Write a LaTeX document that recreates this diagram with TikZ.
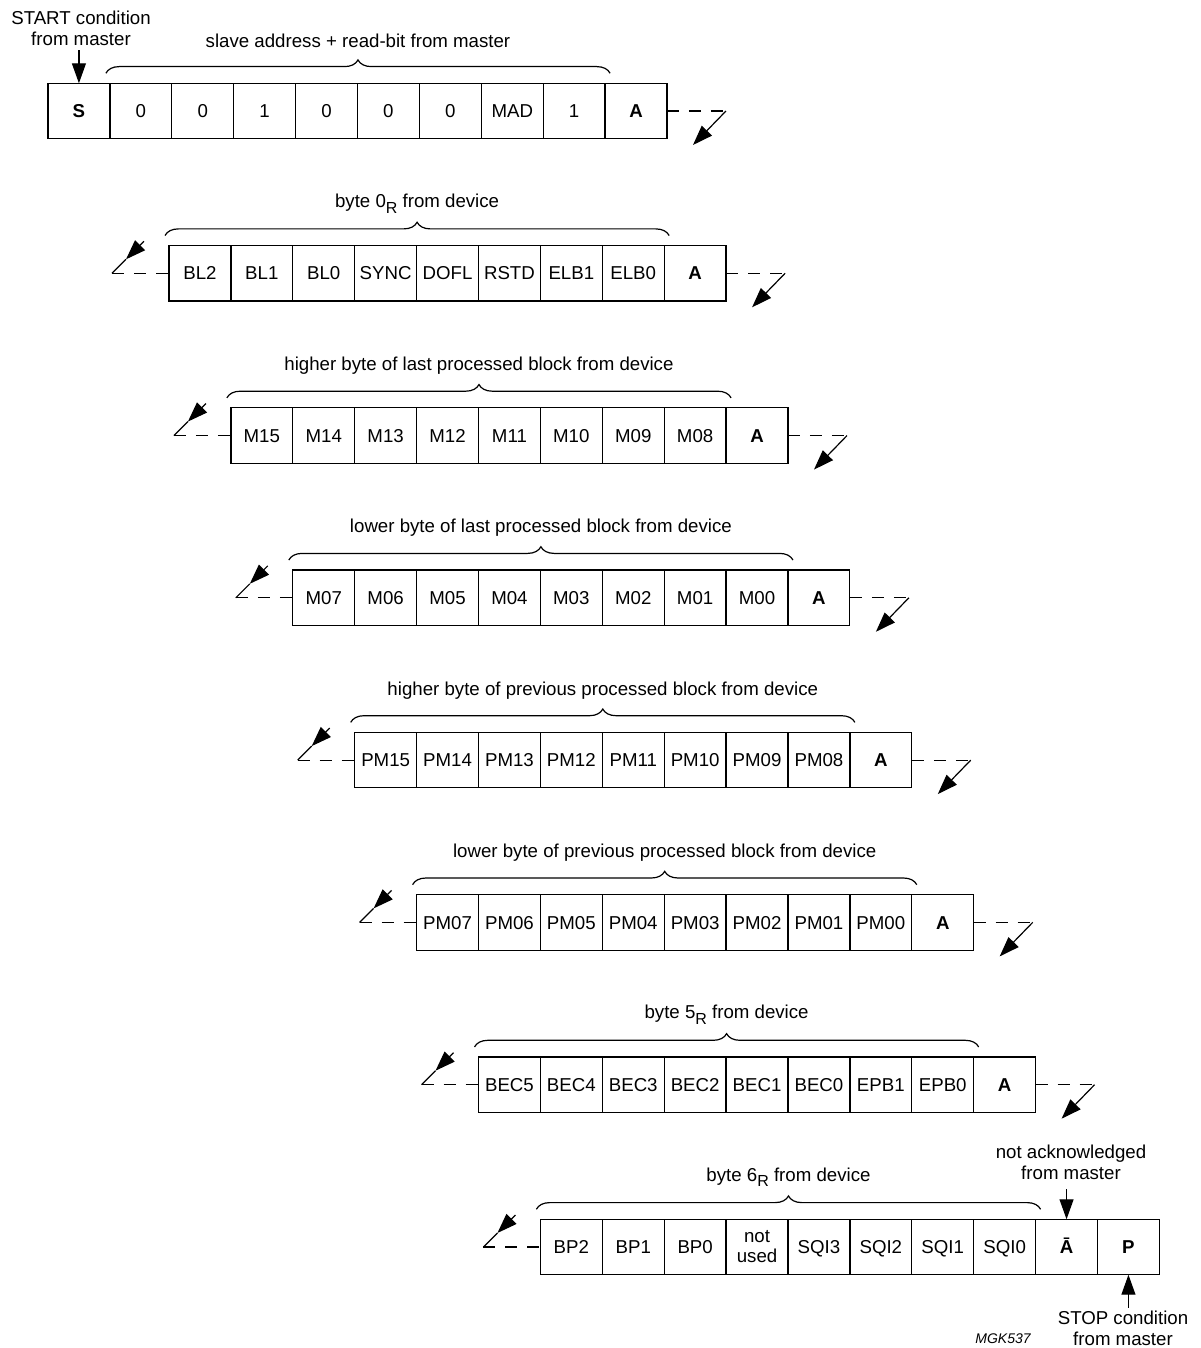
\documentclass[tikz,border=0pt]{standalone}
\usepackage{fontspec}
\setmainfont{Liberation Sans}
\usetikzlibrary{arrows.meta,decorations.pathreplacing,calc}
\newcommand\cellrow[4]{%
  \foreach \t [count=\k from 0] in {#4}{\node[cell] (#1c\k) at ({#2+\k*61.9},#3) {\t};}}
\newcommand\bracelabel[4]{%
  \draw[bracestyle] ($(#1.north west)+(-4,-10)$) -- ($(#2.north east)+(5,-10)$);
  \node[lbl] (#3) at ($(#1.north west)!0.5!(#2.north east)+(0.5,-42)$) {#4};}
\newcommand\rightcont[2]{%
  \coordinate (#2e) at ($(#1.east)+(59,0)$);
  \coordinate (#2t) at ($(#2e)+(-33,34)$);
  \draw[cont] (#1.east) -- (#2e);
  \draw[tip] (#2e) -- (#2t);}
\newcommand\leftcont[2]{%
  \coordinate (#2e) at ($(#1.west)+(-57,0)$);
  \coordinate (#2m) at ($(#2e)+(14,-14)$);
  \coordinate (#2s) at ($(#2e)+(32,-32)$);
  \draw[cont] (#2e) -- (#1.west);
  \draw[tip] (#2s) -- (#2m);
  \draw (#2m) -- (#2e);}
\newcommand\subR{\raisebox{-0.3em}{\fontsize{12}{12}\selectfont R}}
\begin{document}
\begin{tikzpicture}[x=0.75pt,y=-0.75pt,
  line width=0.9pt,
  cell/.style={draw, anchor=west, minimum width=46.4pt, minimum height=41.6pt,
    inner sep=0pt, outer sep=0pt, text height=10pt, text depth=0pt,
    font=\fontsize{14}{15}\selectfont},
  lbl/.style={font=\fontsize{14}{15.75}\selectfont, align=center, inner sep=0pt},
  celltxt/.style={font=\fontsize{14}{15}\selectfont, align=center, inner sep=0pt},
  tip/.style={-{Triangle[length=15pt,width=10.5pt]}},
  cont/.style={dash pattern=on 9pt off 7.5pt},
  bracestyle/.style={decorate, decoration={brace, amplitude=10pt}},
]
\useasboundingbox (0,0) rectangle (1200,1348);

% rows of cells
\cellrow{a}{48}{111}{\textbf{S},0,0,1,0,0,0,MAD,1,\textbf{A}}
\cellrow{b}{169}{273.3}{BL2,BL1,BL0,SYNC,DOFL,RSTD,ELB1,ELB0,\textbf{A}}
\cellrow{c}{230.9}{435.6}{M15,M14,M13,M12,M11,M10,M09,M08,\textbf{A}}
\cellrow{d}{292.8}{597.8}{M07,M06,M05,M04,M03,M02,M01,M00,\textbf{A}}
\cellrow{e}{354.7}{760.1}{PM15,PM14,PM13,PM12,PM11,PM10,PM09,PM08,\textbf{A}}
\cellrow{f}{416.6}{922.4}{PM07,PM06,PM05,PM04,PM03,PM02,PM01,PM00,\textbf{A}}
\cellrow{g}{478.5}{1084.7}{BEC5,BEC4,BEC3,BEC2,BEC1,BEC0,EPB1,EPB0,\textbf{A}}
\cellrow{h}{540.4}{1247}{BP2,BP1,BP0,{},SQI3,SQI2,SQI1,SQI0,\textbf{\=A},\textbf{P}}
\node[celltxt] (notused) at (hc3.center) {not\\used};

% braces and labels
\bracelabel{ac1}{ac8}{la}{slave address + read-bit from master}
\bracelabel{bc0}{bc7}{lb}{byte 0\subR{} from device}
\bracelabel{cc0}{cc7}{lc}{higher byte of last processed block from device}
\bracelabel{dc0}{dc7}{ld}{lower byte of last processed block from device}
\bracelabel{ec0}{ec7}{le}{higher byte of previous processed block from device}
\bracelabel{fc0}{fc7}{lf}{lower byte of previous processed block from device}
\bracelabel{gc0}{gc7}{lg}{byte 5\subR{} from device}
\bracelabel{hc0}{hc7}{lh}{byte 6\subR{} from device}

% continuation marks
\rightcont{ac9}{ra}
\rightcont{bc8}{rb}
\rightcont{cc8}{rc}
\rightcont{dc8}{rd}
\rightcont{ec8}{re}
\rightcont{fc8}{rf}
\rightcont{gc8}{rg}
\leftcont{bc0}{qb}
\leftcont{cc0}{qc}
\leftcont{dc0}{qd}
\leftcont{ec0}{qe}
\leftcont{fc0}{qf}
\leftcont{gc0}{qg}
\leftcont{hc0}{qh}

% annotations
\node[lbl] (start) at (81,28) {START condition\\from master};
\coordinate (startarr) at ($(ac0.north)+(0,-33)$);
\draw[tip] (startarr) -- (ac0.north);

\node[lbl] (nack) at (1071,1162) {not acknowledged\\from master};
\coordinate (nackarr) at ($(hc8.north)+(0,-30)$);
\draw[tip] (nackarr) -- (hc8.north);

\node[lbl] (stop) at (1123,1328) {STOP condition\\from master};
\coordinate (stoparr) at ($(hc9.south)+(0,33)$);
\draw[tip] (stoparr) -- (hc9.south);

\node[font=\fontsize{10.5}{12}\selectfont\itshape, inner sep=0pt] (code) at (1003,1339) {MGK537};
\end{tikzpicture}
\end{document}
